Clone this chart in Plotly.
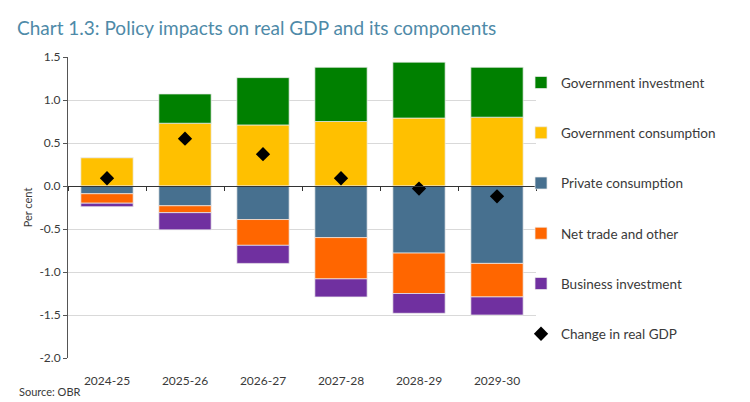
import plotly.graph_objects as go

years = ["2024-25", "2025-26", "2026-27", "2027-28", "2028-29", "2029-30"]

# percentage point contributions
gov_investment = [0.0, 0.34, 0.55, 0.63, 0.65, 0.58]
gov_consumption = [0.33, 0.73, 0.71, 0.75, 0.79, 0.80]
private_consumption = [-0.09, -0.23, -0.39, -0.60, -0.78, -0.90]
net_trade_other = [-0.11, -0.08, -0.30, -0.48, -0.47, -0.39]
business_investment = [-0.04, -0.20, -0.21, -0.21, -0.23, -0.21]
real_gdp = [0.09, 0.55, 0.37, 0.09, -0.03, -0.12]

y_ticks = [1.5, 1.0, 0.5, 0.0, -0.5, -1.0, -1.5, -2.0]
y_labels = ["1.5", "1.0", "0.5", "0.0", "-0.5", "-1.0", "-1.5", "-2.0"]

FONT = "Lato"
TEXT = "#3a3a3a"

fig = go.Figure()

bars = [
    ("Government consumption", gov_consumption, "#FFC000", 2),
    ("Government investment", gov_investment, "#008000", 1),
    ("Private consumption", private_consumption, "#47708F", 3),
    ("Net trade and other", net_trade_other, "#FF6600", 4),
    ("Business investment", business_investment, "#7030A0", 5),
]
for name, vals, col, rank in bars:
    fig.add_trace(go.Bar(
        x=years, y=vals, name=name, marker_color=col,
        marker_line=dict(width=0.8, color="rgba(235,235,235,0.9)"),
        legendrank=rank, legendgroup=name,
    ))

fig.add_trace(go.Scatter(
    x=years, y=real_gdp, mode="markers", name="Change in real GDP",
    marker=dict(symbol="diamond", size=11, color="black"),
    legendrank=6, legendgroup="gdp",
))

# invisible trace so the zero-line axis has categories
fig.add_trace(go.Scatter(x=years, y=[0] * len(years), xaxis="x2",
                         mode="markers", marker_opacity=0,
                         showlegend=False, hoverinfo="skip"))

# page has an 8px body margin, so the layout is nudged up/left by that much
fig.update_layout(
    width=750, height=402,
    barmode="relative", bargap=0.33,
    plot_bgcolor="white", paper_bgcolor="white",
    margin=dict(l=60, r=222, t=49, b=52, autoexpand=False),
    font=dict(family=FONT, size=12, color=TEXT),
    title=dict(text="Chart 1.3: Policy impacts on real GDP and its components",
               x=0.012, xanchor="left", y=0.967, yanchor="top",
               font=dict(family=FONT, size=19, color="#4E8AA8")),
    legend=dict(x=0.968, xanchor="left", y=0.966, yanchor="top",
                traceorder="grouped", tracegroupgap=29.7,
                font=dict(family=FONT, size=13.5, color=TEXT),
                bgcolor="rgba(0,0,0,0)"),
    xaxis=dict(showline=False, ticks="", showgrid=False, zeroline=False,
               automargin=False,
               tickfont=dict(size=12, color=TEXT), ticklabelstandoff=14),
    xaxis2=dict(overlaying="x", anchor="free", position=2 / 3.5,
                showline=True, linecolor="#333", linewidth=1,
                ticks="outside", ticklen=4, tickcolor="#333",
                tickson="boundaries", showticklabels=False,
                showgrid=False, zeroline=False, matches="x"),
    yaxis=dict(range=[-2.0, 1.5], tickvals=y_ticks, ticktext=y_labels,
               showgrid=True, gridcolor="#d9d9d9", gridwidth=1,
               zeroline=False, showline=True, linecolor="#555",
               ticks="outside", ticklen=4, tickcolor="#555",
               automargin=False,
               tickfont=dict(size=12, color=TEXT),
               title=dict(text="Per cent", standoff=4,
                          font=dict(size=11, color=TEXT))),
    annotations=[dict(text="Source: OBR", xref="paper", yref="paper",
                      x=-0.109, y=-0.083, xanchor="left", yanchor="top",
                      showarrow=False, font=dict(size=11, color=TEXT))],
)

fig.write_html("out.html")
